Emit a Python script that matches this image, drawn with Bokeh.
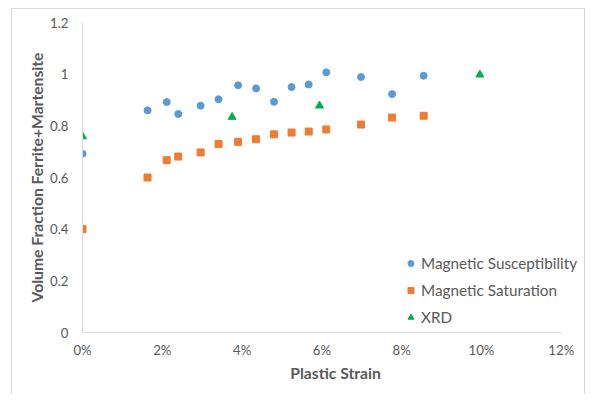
from bokeh.plotting import figure
from bokeh.models import Legend, LegendItem, NumeralTickFormatter, FixedTicker, Range1d
from bokeh.embed import file_html
from bokeh.resources import INLINE

# Data (plastic strain as fraction, volume fraction)
sus_x = [0.0, 0.0163, 0.0211, 0.0240, 0.0296, 0.0341, 0.0390, 0.0435, 0.0480, 0.0524, 0.0567, 0.0611, 0.0698, 0.0776, 0.0855]
sus_y = [0.692, 0.860, 0.892, 0.846, 0.878, 0.903, 0.957, 0.945, 0.893, 0.950, 0.960, 1.007, 0.989, 0.923, 0.994]

sat_x = [0.0, 0.0163, 0.0211, 0.0240, 0.0296, 0.0341, 0.0390, 0.0435, 0.0480, 0.0524, 0.0567, 0.0611, 0.0698, 0.0776, 0.0855]
sat_y = [0.400, 0.600, 0.667, 0.681, 0.697, 0.730, 0.738, 0.748, 0.767, 0.774, 0.778, 0.786, 0.805, 0.832, 0.839]

xrd_x = [0.0, 0.0375, 0.0594, 0.0996]
xrd_y = [0.759, 0.834, 0.878, 0.998]

x_ticks = [0.0, 0.02, 0.04, 0.06, 0.08, 0.10, 0.12]
y_ticks = [0.0, 0.2, 0.4, 0.6, 0.8, 1.0, 1.2]

FONT = "Lato"
GRAY = "#595959"

W, H = 590, 394
ML, MR, MT, MB = 82, 2, 22, 62
AXIS_RIGHT_PX = 560.8  # where 12% sits
x_end = 0.12 * (W - ML - MR) / (AXIS_RIGHT_PX - ML)

p = figure(width=W, height=H, output_backend="svg", toolbar_location=None,
           x_range=Range1d(0, x_end), y_range=Range1d(0, 1.2),
           min_border_left=ML, min_border_right=MR, min_border_top=MT, min_border_bottom=MB)
p.border_fill_color = None
p.background_fill_color = None
p.styles = {
    "background-color": "white",
    "background-image": "linear-gradient(#d9d9d9,#d9d9d9), linear-gradient(#d9d9d9,#d9d9d9), linear-gradient(#d9d9d9,#d9d9d9)",
    "background-size": "1px 100%, 1px 100%, 574px 1px",
    "background-position": "11px 8px, 584px 8px, 11px 8px",
    "background-repeat": "no-repeat",
}
p.outline_line_color = None
p.xgrid.visible = False
p.ygrid.visible = False

r1 = p.scatter(sus_x, sus_y, marker="circle", size=7, fill_color="#5B9BD5", line_color="#5B9BD5")
r2 = p.scatter(sat_x, sat_y, marker="square", size=7, fill_color="#ED7D31", line_color="#ED7D31")
r3 = p.scatter(xrd_x, xrd_y, marker="triangle", size=8, fill_color="#00B050", line_color="#00B050")

for ax in (p.xaxis[0], p.yaxis[0]):
    ax.axis_line_color = "#D9D9D9"
    ax.major_tick_line_color = None
    ax.minor_tick_line_color = None
    ax.major_tick_in = 0
    ax.major_tick_out = 0
    ax.minor_tick_in = 0
    ax.minor_tick_out = 0
    ax.major_label_text_font = FONT
    ax.major_label_text_font_size = "13.2px"
    ax.major_label_text_color = GRAY
    ax.axis_label_text_font = FONT
    ax.axis_label_text_font_size = "15.7px"
    ax.axis_label_text_font_style = "bold"
    ax.axis_label_text_color = GRAY

p.xaxis.bounds = (0, 0.12)
p.xaxis.ticker = FixedTicker(ticks=x_ticks)
p.yaxis.ticker = FixedTicker(ticks=y_ticks)
p.xaxis.formatter = NumeralTickFormatter(format="0%")
p.xaxis.axis_label = "Plastic Strain"
p.yaxis.axis_label = "Volume Fraction Ferrite+Martensite"
p.xaxis.major_label_standoff = 9
p.yaxis.major_label_standoff = 14
p.xaxis.axis_label_standoff = 3
p.yaxis.axis_label_standoff = 1

legend = Legend(items=[
    LegendItem(label="Magnetic Susceptibility", renderers=[r1]),
    LegendItem(label="Magnetic Saturation", renderers=[r2]),
    LegendItem(label="XRD", renderers=[r3]),
], location=(321, 5))
legend.background_fill_alpha = 0
legend.border_line_color = None
legend.label_text_font = FONT
legend.label_text_font_size = "15.3px"
legend.label_text_color = GRAY
legend.glyph_width = 15
legend.glyph_height = 20
legend.label_height = 20
legend.label_standoff = 3
legend.spacing = 7
legend.padding = 0
legend.margin = 0
p.add_layout(legend)

open("out.html", "w").write(file_html(p, INLINE))
